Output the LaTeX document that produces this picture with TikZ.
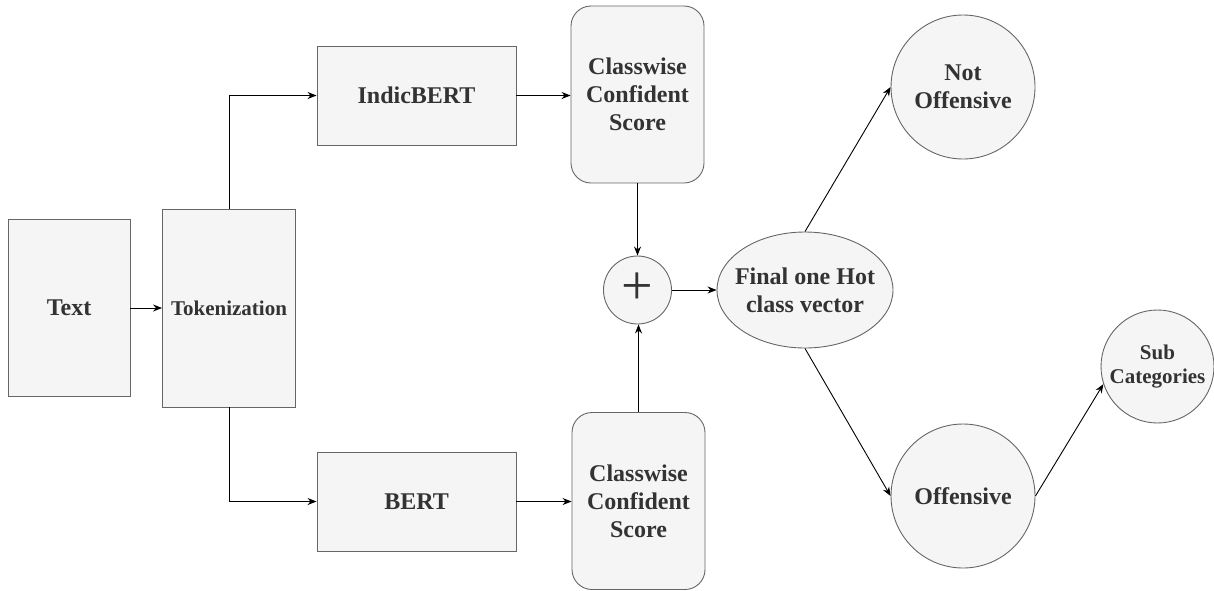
\documentclass[tikz,border=0pt]{standalone}
\usepackage{fontspec}
\setmainfont{Liberation Serif}
\usetikzlibrary{arrows.meta,shapes,positioning}
\definecolor{boxfill}{HTML}{F5F5F5}
\definecolor{boxline}{HTML}{666666}
\definecolor{boxtext}{HTML}{333333}

\begin{document}
\begin{tikzpicture}[
    x=1pt, y=-1pt,
    every node/.style={
        text=boxtext,
        font=\bfseries\fontsize{24}{28}\selectfont,
        align=center
        },
    block/.style={
        draw=boxline,
        fill=boxfill,
        line width=0.9pt,
        inner sep=2pt
        },
    score/.style={
        block,
        rounded corners=20pt,
        minimum width=133pt,
        minimum height=177pt
        },
    model/.style={
        block,
        minimum width=199pt,
        minimum height=99pt
        },
    merge/.style={
        block,
        circle,
        minimum size=68pt,
        inner sep=0pt
        },
    result/.style={
        block,
        circle,
        minimum size=144pt,
        inner sep=0pt
        },
    link/.style={
        -{Stealth[length=9pt,width=7pt]},
        line width=0.9pt,
        black
        },
  ]
  \useasboundingbox (0,0) rectangle (1214,590);
  % Input
  \node[block, minimum width=122pt, minimum height=177pt] (text) at (69,308) {Text};
  \node[block, minimum width=133pt, minimum height=198pt,
        font=\bfseries\fontsize{21}{25}\selectfont] (token) at (229,308) {Tokenization};
  % Models
  \node[model] (indic) at (416.5,95.5) {IndicBERT};
  \node[model] (bert) at (416.5,501.5) {BERT};
  % Scores
  \node[score] (score1) at (637.5,94.5) {Classwise\\Confident\\Score};
  \node[score] (score2) at (638.5,501) {Classwise\\Confident\\Score};
  \node[merge, font=\mdseries\fontsize{56}{56}\selectfont] (plus) at (637.5,290)
    {\raisebox{2pt}{+}};
  % Output
  \node[block, ellipse, minimum width=176pt, minimum height=116pt,
        inner xsep=-8pt, inner ysep=0pt] (final) at (805,290) {Final one Hot\\class vector};
  \node[result] (notoff) at (963,87) {Not\\Offensive};
  \node[result] (off) at (963,496) {Offensive};
  \node[block, circle, minimum size=113pt, inner sep=0pt,
        font=\bfseries\fontsize{21}{24}\selectfont] (sub) at (1157.5,366.5) {Sub\\Categories};
  % Connectors
  \draw[link] (text) -- (token);
  \draw[link] (token.north) |- (indic.west);
  \draw[link] (token.south) |- (bert.west);
  \draw[link] (indic.east) -- (indic.east -| score1.west);
  \draw[link] (bert.east) -- (bert.east -| score2.west);
  \draw[link] (score1.south) -- (plus.north);
  \draw[link] (score2.north) -- (score2.north |- plus.south);
  \draw[link] (plus) -- (final);
  \draw[link] (final.north) -- (notoff.west);
  \draw[link] (final.south) -- (off.west);
  \draw[link] (off.east) -- (sub.198);
\end{tikzpicture}
\end{document}
